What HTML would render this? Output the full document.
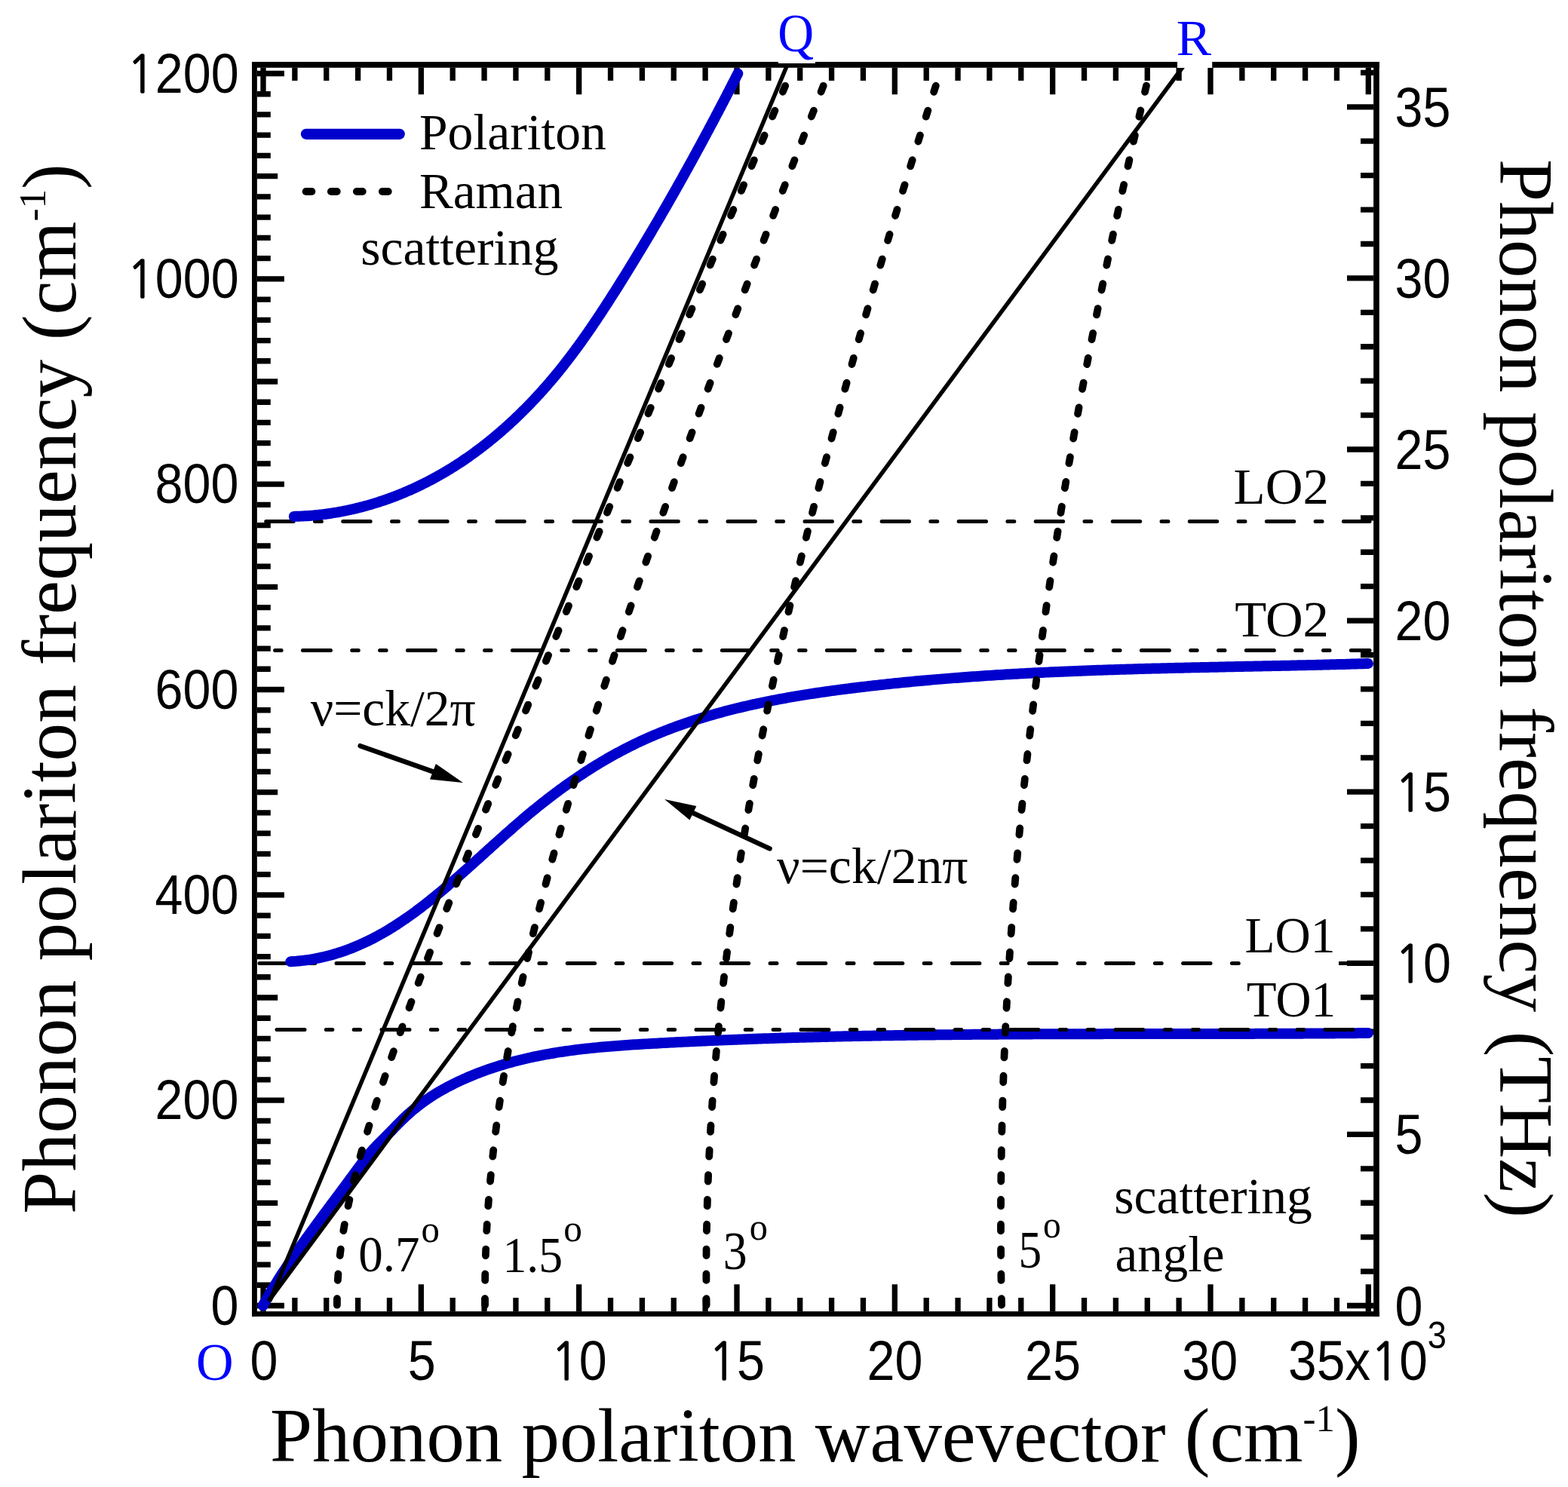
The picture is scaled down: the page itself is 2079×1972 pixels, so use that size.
<!DOCTYPE html>
<html><head><meta charset="utf-8"><title>Phonon polariton dispersion</title>
<style>html,body{margin:0;padding:0;background:#fff;}svg{display:block;}</style></head>
<body><svg xmlns="http://www.w3.org/2000/svg" width="2079" height="1972" viewBox="0 0 2079 1972">
<rect width="2079" height="1972" fill="#fff"/>
<rect x="334" y="82" width="1495" height="7.8" fill="#000"/>
<rect x="334" y="1739.1" width="1495" height="6.8" fill="#000"/>
<rect x="334" y="82" width="6.85" height="1663.9" fill="#000"/>
<rect x="1821.1" y="82" width="7.7" height="1663.9" fill="#000"/>
<path d="M340.8 1731.50H376.9 M340.8 1704.27H358.8 M340.8 1677.03H358.8 M340.8 1649.80H358.8 M340.8 1622.57H358.8 M340.8 1595.33H368.2 M340.8 1568.10H358.8 M340.8 1540.87H358.8 M340.8 1513.63H358.8 M340.8 1486.40H358.8 M340.8 1459.17H376.9 M340.8 1431.93H358.8 M340.8 1404.70H358.8 M340.8 1377.47H358.8 M340.8 1350.23H358.8 M340.8 1323.00H368.2 M340.8 1295.77H358.8 M340.8 1268.53H358.8 M340.8 1241.30H358.8 M340.8 1214.07H358.8 M340.8 1186.83H376.9 M340.8 1159.60H358.8 M340.8 1132.37H358.8 M340.8 1105.13H358.8 M340.8 1077.90H358.8 M340.8 1050.66H368.2 M340.8 1023.43H358.8 M340.8 996.20H358.8 M340.8 968.96H358.8 M340.8 941.73H358.8 M340.8 914.50H376.9 M340.8 887.26H358.8 M340.8 860.03H358.8 M340.8 832.80H358.8 M340.8 805.56H358.8 M340.8 778.33H368.2 M340.8 751.10H358.8 M340.8 723.86H358.8 M340.8 696.63H358.8 M340.8 669.40H358.8 M340.8 642.16H376.9 M340.8 614.93H358.8 M340.8 587.70H358.8 M340.8 560.46H358.8 M340.8 533.23H358.8 M340.8 506.00H368.2 M340.8 478.76H358.8 M340.8 451.53H358.8 M340.8 424.30H358.8 M340.8 397.06H358.8 M340.8 369.83H376.9 M340.8 342.60H358.8 M340.8 315.36H358.8 M340.8 288.13H358.8 M340.8 260.90H358.8 M340.8 233.66H368.2 M340.8 206.43H358.8 M340.8 179.20H358.8 M340.8 151.96H358.8 M340.8 124.73H358.8 M340.8 97.50H376.9 M1821.1 1731.50H1786.0 M1821.1 1686.08H1804.0 M1821.1 1640.66H1804.0 M1821.1 1595.24H1804.0 M1821.1 1549.82H1804.0 M1821.1 1504.40H1786.0 M1821.1 1458.98H1804.0 M1821.1 1413.56H1804.0 M1821.1 1368.14H1804.0 M1821.1 1322.72H1804.0 M1821.1 1277.30H1786.0 M1821.1 1231.88H1804.0 M1821.1 1186.46H1804.0 M1821.1 1141.04H1804.0 M1821.1 1095.62H1804.0 M1821.1 1050.20H1786.0 M1821.1 1004.78H1804.0 M1821.1 959.36H1804.0 M1821.1 913.94H1804.0 M1821.1 868.52H1804.0 M1821.1 823.10H1786.0 M1821.1 777.68H1804.0 M1821.1 732.26H1804.0 M1821.1 686.84H1804.0 M1821.1 641.42H1804.0 M1821.1 596.00H1786.0 M1821.1 550.58H1804.0 M1821.1 505.16H1804.0 M1821.1 459.74H1804.0 M1821.1 414.32H1804.0 M1821.1 368.90H1786.0 M1821.1 323.48H1804.0 M1821.1 278.06H1804.0 M1821.1 232.64H1804.0 M1821.1 187.22H1804.0 M1821.1 141.80H1786.0 M1821.1 96.38H1804.0 M349.00 1739.1V1703.2 M349.00 89.8V125.2 M390.87 1739.1V1721 M390.87 89.8V106.9 M432.73 1739.1V1721 M432.73 89.8V106.9 M474.60 1739.1V1721 M474.60 89.8V106.9 M516.46 1739.1V1721 M516.46 89.8V106.9 M558.33 1739.1V1703.2 M558.33 89.8V125.2 M600.20 1739.1V1721 M600.20 89.8V106.9 M642.06 1739.1V1721 M642.06 89.8V106.9 M683.93 1739.1V1721 M683.93 89.8V106.9 M725.79 1739.1V1721 M725.79 89.8V106.9 M767.66 1739.1V1703.2 M767.66 89.8V125.2 M809.53 1739.1V1721 M809.53 89.8V106.9 M851.39 1739.1V1721 M851.39 89.8V106.9 M893.26 1739.1V1721 M893.26 89.8V106.9 M935.12 1739.1V1721 M935.12 89.8V106.9 M976.99 1739.1V1703.2 M976.99 89.8V125.2 M1018.86 1739.1V1721 M1018.86 89.8V106.9 M1060.72 1739.1V1721 M1060.72 89.8V106.9 M1102.59 1739.1V1721 M1102.59 89.8V106.9 M1144.45 1739.1V1721 M1144.45 89.8V106.9 M1186.32 1739.1V1703.2 M1186.32 89.8V125.2 M1228.19 1739.1V1721 M1228.19 89.8V106.9 M1270.05 1739.1V1721 M1270.05 89.8V106.9 M1311.92 1739.1V1721 M1311.92 89.8V106.9 M1353.78 1739.1V1721 M1353.78 89.8V106.9 M1395.65 1739.1V1703.2 M1395.65 89.8V125.2 M1437.52 1739.1V1721 M1437.52 89.8V106.9 M1479.38 1739.1V1721 M1479.38 89.8V106.9 M1521.25 1739.1V1721 M1521.25 89.8V106.9 M1563.11 1739.1V1721 M1563.11 89.8V106.9 M1604.98 1739.1V1703.2 M1604.98 89.8V125.2 M1646.85 1739.1V1721 M1646.85 89.8V106.9 M1688.71 1739.1V1721 M1688.71 89.8V106.9 M1730.58 1739.1V1721 M1730.58 89.8V106.9 M1772.44 1739.1V1721 M1772.44 89.8V106.9 M1814.31 1739.1V1703.2 M1814.31 89.8V125.2" stroke="#000" stroke-width="7.3" fill="none"/>
<path d="M344.00 1277.40H1816.00" stroke="#000" stroke-width="5" stroke-linecap="round" stroke-dasharray="36.4 28.375 8.9 28.375" fill="none"/>
<path d="M352.70 691.50H1816.00" stroke="#000" stroke-width="5" stroke-linecap="round" stroke-dasharray="36.4 28.375 8.9 28.375" fill="none"/>
<path d="M364.60 862.40H1816.00" stroke="#000" stroke-width="5" stroke-linecap="round" stroke-dasharray="8.5 28.33 37 28.33 8.5 28.33" fill="none"/>
<path d="M348.60 1731.50 L350.17 1728.67 L351.76 1725.84 L353.36 1723.03 L354.98 1720.22 L356.61 1717.43 L358.25 1714.64 L359.90 1711.86 L361.57 1709.08 L363.25 1706.32 L364.94 1703.56 L366.64 1700.81 L368.35 1698.07 L370.07 1695.34 L371.81 1692.61 L373.55 1689.89 L375.31 1687.17 L377.07 1684.46 L378.85 1681.76 L380.63 1679.07 L382.42 1676.38 L384.22 1673.69 L386.03 1671.01 L387.85 1668.34 L389.68 1665.67 L391.51 1663.01 L393.35 1660.35 L395.20 1657.70 L397.05 1655.05 L398.92 1652.40 L400.78 1649.76 L402.66 1647.13 L404.54 1644.49 L406.42 1641.86 L408.31 1639.24 L410.21 1636.61 L412.10 1634.00 L414.01 1631.38 L415.92 1628.76 L417.83 1626.15 L419.74 1623.54 L421.66 1620.94 L423.58 1618.33 L425.51 1615.73 L427.43 1613.13 L429.36 1610.53 L431.29 1607.93 L433.23 1605.33 L435.16 1602.73 L437.10 1600.14 L439.03 1597.54 L440.97 1594.95 L442.90 1592.35 L444.84 1589.76 L446.78 1587.16 L448.71 1584.57 L450.65 1581.97 L452.58 1579.38 L454.51 1576.78 L456.44 1574.18 L458.37 1571.58 L460.30 1568.98 L462.22 1566.38 L464.14 1563.77 L466.06 1561.17 L467.97 1558.56 L469.89 1555.95 L471.80 1553.34 L473.72 1550.74 L475.64 1548.15 L477.57 1545.56 L479.51 1542.99 L481.46 1540.44 L483.44 1537.91 L485.43 1535.39 L487.44 1532.90 L489.47 1530.44 L491.53 1528.01 L493.63 1525.62 L495.75 1523.26 L497.91 1520.93 L500.10 1518.65 L502.32 1516.39 L504.56 1514.16 L506.81 1511.93 L509.07 1509.70 L511.32 1507.45 L513.56 1505.18 L515.80 1502.90 L518.03 1500.60 L520.26 1498.30 L522.49 1496.00 L524.73 1493.69 L526.97 1491.40 L529.23 1489.11 L531.50 1486.84 L533.78 1484.60 L536.09 1482.37 L538.42 1480.18 L540.77 1478.02 L543.15 1475.90 L545.55 1473.81 L547.98 1471.75 L550.44 1469.73 L552.92 1467.73 L555.43 1465.77 L557.97 1463.84 L560.54 1461.94 L563.13 1460.08 L565.76 1458.24 L568.41 1456.43 L571.09 1454.65 L573.81 1452.90 L576.55 1451.18 L579.32 1449.49 L582.12 1447.83 L584.93 1446.19 L587.78 1444.59 L590.64 1443.01 L593.52 1441.46 L596.43 1439.94 L599.35 1438.44 L602.28 1436.98 L605.23 1435.54 L608.19 1434.13 L611.16 1432.74 L614.15 1431.39 L617.14 1430.06 L620.14 1428.75 L623.14 1427.47 L626.15 1426.22 L629.17 1425.00 L632.19 1423.80 L635.22 1422.62 L638.25 1421.47 L641.29 1420.35 L644.34 1419.25 L647.39 1418.17 L650.44 1417.12 L653.50 1416.09 L656.57 1415.08 L659.64 1414.10 L662.72 1413.13 L665.80 1412.20 L668.89 1411.28 L671.98 1410.38 L675.07 1409.51 L678.17 1408.65 L681.28 1407.82 L684.39 1407.00 L687.50 1406.21 L690.62 1405.44 L693.74 1404.68 L696.87 1403.94 L700.00 1403.23 L703.14 1402.53 L706.28 1401.85 L709.42 1401.18 L712.57 1400.54 L715.72 1399.91 L718.87 1399.30 L722.03 1398.70 L725.19 1398.12 L728.36 1397.56 L731.52 1397.01 L734.70 1396.48 L737.87 1395.96 L741.05 1395.45 L744.23 1394.96 L747.41 1394.49 L750.60 1394.03 L753.79 1393.58 L756.98 1393.14 L760.18 1392.72 L763.37 1392.31 L766.57 1391.91 L769.78 1391.52 L772.98 1391.15 L776.19 1390.78 L779.40 1390.43 L782.61 1390.09 L785.82 1389.75 L789.04 1389.43 L792.25 1389.12 L795.47 1388.81 L798.69 1388.52 L801.91 1388.23 L805.14 1387.95 L808.36 1387.68 L811.59 1387.42 L814.82 1387.17 L818.05 1386.92 L821.28 1386.68 L824.51 1386.44 L827.74 1386.21 L830.97 1385.99 L834.21 1385.77 L837.44 1385.56 L840.68 1385.35 L843.91 1385.15 L847.15 1384.95 L850.39 1384.75 L853.63 1384.56 L856.86 1384.37 L860.10 1384.19 L863.34 1384.00 L866.58 1383.82 L869.82 1383.64 L873.05 1383.47 L876.29 1383.29 L879.53 1383.12 L882.77 1382.95 L886.01 1382.78 L889.24 1382.61 L892.48 1382.44 L895.72 1382.28 L898.96 1382.11 L902.19 1381.95 L905.43 1381.79 L908.67 1381.63 L911.90 1381.48 L915.14 1381.32 L918.38 1381.17 L921.61 1381.01 L924.85 1380.86 L928.09 1380.71 L931.32 1380.57 L934.56 1380.42 L937.80 1380.28 L941.03 1380.13 L944.27 1379.99 L947.51 1379.85 L950.74 1379.71 L953.98 1379.58 L957.21 1379.44 L960.45 1379.31 L963.68 1379.17 L966.92 1379.04 L970.16 1378.91 L973.39 1378.78 L976.63 1378.66 L979.86 1378.53 L983.10 1378.41 L986.33 1378.28 L989.57 1378.16 L992.80 1378.04 L996.04 1377.92 L999.27 1377.81 L1002.51 1377.69 L1005.74 1377.58 L1008.98 1377.46 L1012.21 1377.35 L1015.44 1377.24 L1018.68 1377.13 L1021.91 1377.03 L1025.15 1376.92 L1028.38 1376.81 L1031.62 1376.71 L1034.85 1376.61 L1038.08 1376.51 L1041.32 1376.41 L1044.55 1376.31 L1047.79 1376.21 L1051.02 1376.11 L1054.25 1376.02 L1057.49 1375.92 L1060.72 1375.83 L1063.95 1375.74 L1067.19 1375.65 L1070.42 1375.56 L1073.65 1375.47 L1076.89 1375.39 L1080.12 1375.30 L1083.35 1375.22 L1086.59 1375.13 L1089.82 1375.05 L1093.05 1374.97 L1096.29 1374.89 L1099.52 1374.81 L1102.75 1374.74 L1105.98 1374.66 L1109.22 1374.58 L1112.45 1374.51 L1115.68 1374.44 L1118.92 1374.36 L1122.15 1374.29 L1125.38 1374.22 L1128.61 1374.15 L1131.85 1374.09 L1135.08 1374.02 L1138.31 1373.95 L1141.54 1373.89 L1144.77 1373.83 L1148.01 1373.76 L1151.24 1373.70 L1154.47 1373.64 L1157.70 1373.58 L1160.94 1373.52 L1164.17 1373.46 L1167.40 1373.41 L1170.63 1373.35 L1173.86 1373.30 L1177.10 1373.24 L1180.33 1373.19 L1183.56 1373.14 L1186.79 1373.08 L1190.02 1373.03 L1193.25 1372.98 L1196.49 1372.94 L1199.72 1372.89 L1202.95 1372.84 L1206.18 1372.79 L1209.41 1372.75 L1212.64 1372.70 L1215.88 1372.66 L1219.11 1372.62 L1222.34 1372.57 L1225.57 1372.53 L1228.80 1372.49 L1232.03 1372.45 L1235.27 1372.41 L1238.50 1372.38 L1241.73 1372.34 L1244.96 1372.30 L1248.19 1372.27 L1251.42 1372.23 L1254.65 1372.20 L1257.88 1372.16 L1261.12 1372.13 L1264.35 1372.10 L1267.58 1372.07 L1270.81 1372.03 L1274.04 1372.00 L1277.27 1371.97 L1280.50 1371.95 L1283.73 1371.92 L1286.97 1371.89 L1290.20 1371.86 L1293.43 1371.84 L1296.66 1371.81 L1299.89 1371.79 L1303.12 1371.76 L1306.35 1371.74 L1309.58 1371.71 L1312.81 1371.69 L1316.05 1371.67 L1319.28 1371.65 L1322.51 1371.63 L1325.74 1371.61 L1328.97 1371.59 L1332.20 1371.57 L1335.43 1371.55 L1338.66 1371.53 L1341.89 1371.51 L1345.13 1371.49 L1348.36 1371.48 L1351.59 1371.46 L1354.82 1371.44 L1358.05 1371.43 L1361.28 1371.41 L1364.51 1371.40 L1367.74 1371.38 L1370.97 1371.37 L1374.21 1371.36 L1377.44 1371.34 L1380.67 1371.33 L1383.90 1371.32 L1387.13 1371.31 L1390.36 1371.30 L1393.59 1371.29 L1396.82 1371.28 L1400.05 1371.26 L1403.29 1371.25 L1406.52 1371.25 L1409.75 1371.24 L1412.98 1371.23 L1416.21 1371.22 L1419.44 1371.21 L1422.67 1371.20 L1425.90 1371.20 L1429.14 1371.19 L1432.37 1371.18 L1435.60 1371.17 L1438.83 1371.17 L1442.06 1371.16 L1445.29 1371.15 L1448.52 1371.15 L1451.76 1371.14 L1454.99 1371.14 L1458.22 1371.13 L1461.45 1371.13 L1464.68 1371.12 L1467.91 1371.12 L1471.15 1371.11 L1474.38 1371.11 L1477.61 1371.11 L1480.84 1371.10 L1484.07 1371.10 L1487.30 1371.09 L1490.54 1371.09 L1493.77 1371.09 L1497.00 1371.08 L1500.23 1371.08 L1503.46 1371.08 L1506.70 1371.08 L1509.93 1371.07 L1513.16 1371.07 L1516.39 1371.07 L1519.62 1371.06 L1522.86 1371.06 L1526.09 1371.06 L1529.32 1371.06 L1532.55 1371.05 L1535.79 1371.05 L1539.02 1371.05 L1542.25 1371.05 L1545.48 1371.04 L1548.72 1371.04 L1551.95 1371.04 L1555.18 1371.04 L1558.41 1371.03 L1561.65 1371.03 L1564.88 1371.03 L1568.11 1371.03 L1571.35 1371.02 L1574.58 1371.02 L1577.81 1371.02 L1581.04 1371.01 L1584.28 1371.01 L1587.51 1371.01 L1590.74 1371.00 L1593.98 1371.00 L1597.21 1371.00 L1600.44 1370.99 L1603.68 1370.99 L1606.91 1370.98 L1610.14 1370.98 L1613.38 1370.98 L1616.61 1370.97 L1619.84 1370.97 L1623.08 1370.96 L1626.31 1370.95 L1629.55 1370.95 L1632.78 1370.94 L1636.01 1370.94 L1639.25 1370.93 L1642.48 1370.92 L1645.72 1370.92 L1648.95 1370.91 L1652.18 1370.90 L1655.42 1370.90 L1658.65 1370.89 L1661.89 1370.88 L1665.12 1370.87 L1668.36 1370.86 L1671.59 1370.85 L1674.83 1370.84 L1678.06 1370.83 L1681.30 1370.82 L1684.53 1370.81 L1687.77 1370.80 L1691.00 1370.79 L1694.24 1370.78 L1697.47 1370.77 L1700.71 1370.75 L1703.94 1370.74 L1707.18 1370.73 L1710.41 1370.71 L1713.65 1370.70 L1716.89 1370.68 L1720.12 1370.67 L1723.36 1370.65 L1726.59 1370.64 L1729.83 1370.62 L1733.07 1370.60 L1736.30 1370.59 L1739.54 1370.57 L1742.78 1370.55 L1746.01 1370.53 L1749.25 1370.51 L1752.49 1370.49 L1755.72 1370.47 L1758.96 1370.45 L1762.20 1370.43 L1765.43 1370.41 L1768.67 1370.38 L1771.91 1370.36 L1775.14 1370.34 L1778.38 1370.31 L1781.62 1370.29 L1784.86 1370.26 L1788.10 1370.23 L1791.33 1370.21 L1794.57 1370.18 L1797.81 1370.15 L1801.05 1370.12 L1804.29 1370.09 L1807.52 1370.06 L1810.76 1370.03 L1814.00 1370.00" stroke="#0000cc" stroke-width="14" stroke-linecap="round" stroke-linejoin="round" fill="none"/>
<path d="M385.30 1275.30 L388.55 1275.10 L391.79 1274.86 L395.01 1274.57 L398.20 1274.25 L401.38 1273.89 L404.54 1273.50 L407.68 1273.06 L410.81 1272.59 L413.91 1272.08 L417.00 1271.53 L420.07 1270.95 L423.12 1270.34 L426.16 1269.68 L429.17 1269.00 L432.17 1268.28 L435.16 1267.52 L438.12 1266.73 L441.08 1265.91 L444.01 1265.06 L446.93 1264.17 L449.83 1263.26 L452.72 1262.31 L455.59 1261.33 L458.45 1260.32 L461.29 1259.28 L464.11 1258.21 L466.93 1257.11 L469.72 1255.99 L472.51 1254.83 L475.28 1253.65 L478.03 1252.44 L480.77 1251.21 L483.50 1249.94 L486.22 1248.66 L488.92 1247.34 L491.61 1246.00 L494.28 1244.64 L496.95 1243.25 L499.60 1241.84 L502.24 1240.41 L504.87 1238.95 L507.48 1237.47 L510.09 1235.97 L512.68 1234.44 L515.27 1232.90 L517.84 1231.33 L520.40 1229.75 L522.95 1228.14 L525.49 1226.52 L528.03 1224.87 L530.55 1223.21 L533.06 1221.53 L535.56 1219.83 L538.06 1218.11 L540.54 1216.38 L543.02 1214.63 L545.49 1212.86 L547.95 1211.08 L550.40 1209.28 L552.84 1207.47 L555.28 1205.64 L557.71 1203.80 L560.13 1201.95 L562.55 1200.08 L564.96 1198.20 L567.36 1196.31 L569.76 1194.41 L572.15 1192.49 L574.53 1190.57 L576.91 1188.63 L579.28 1186.68 L581.65 1184.73 L584.01 1182.76 L586.37 1180.79 L588.72 1178.81 L591.07 1176.82 L593.42 1174.82 L595.76 1172.81 L598.09 1170.80 L600.43 1168.78 L602.76 1166.76 L605.08 1164.73 L607.41 1162.69 L609.73 1160.65 L612.05 1158.60 L614.36 1156.55 L616.68 1154.50 L618.99 1152.44 L621.30 1150.38 L623.61 1148.31 L625.92 1146.24 L628.22 1144.17 L630.53 1142.10 L632.83 1140.02 L635.14 1137.95 L637.44 1135.87 L639.74 1133.79 L642.05 1131.71 L644.35 1129.63 L646.66 1127.55 L648.96 1125.47 L651.27 1123.39 L653.57 1121.31 L655.88 1119.23 L658.19 1117.16 L660.50 1115.09 L662.82 1113.01 L665.13 1110.95 L667.45 1108.88 L669.77 1106.82 L672.09 1104.76 L674.42 1102.70 L676.75 1100.65 L679.08 1098.61 L681.41 1096.56 L683.75 1094.53 L686.10 1092.50 L688.44 1090.47 L690.79 1088.45 L693.15 1086.44 L695.51 1084.43 L697.88 1082.43 L700.25 1080.44 L702.62 1078.46 L705.01 1076.48 L707.39 1074.51 L709.79 1072.55 L712.18 1070.60 L714.59 1068.66 L717.00 1066.73 L719.42 1064.81 L721.84 1062.90 L724.27 1060.99 L726.71 1059.10 L729.15 1057.21 L731.60 1055.34 L734.05 1053.48 L736.51 1051.62 L738.98 1049.78 L741.45 1047.95 L743.93 1046.13 L746.42 1044.31 L748.91 1042.51 L751.41 1040.72 L753.92 1038.95 L756.43 1037.18 L758.95 1035.42 L761.47 1033.68 L764.00 1031.95 L766.54 1030.23 L769.08 1028.52 L771.63 1026.82 L774.19 1025.14 L776.75 1023.47 L779.32 1021.81 L781.90 1020.16 L784.48 1018.52 L787.07 1016.90 L789.67 1015.29 L792.27 1013.70 L794.88 1012.12 L797.50 1010.55 L800.13 1008.99 L802.76 1007.45 L805.39 1005.92 L808.04 1004.41 L810.69 1002.91 L813.35 1001.42 L816.01 999.95 L818.68 998.49 L821.36 997.05 L824.05 995.62 L826.74 994.21 L829.44 992.81 L832.15 991.42 L834.86 990.06 L837.58 988.70 L840.31 987.36 L843.04 986.04 L845.78 984.74 L848.53 983.44 L851.29 982.17 L854.05 980.90 L856.82 979.66 L859.59 978.42 L862.37 977.20 L865.16 976.00 L867.95 974.81 L870.75 973.63 L873.56 972.47 L876.37 971.33 L879.19 970.19 L882.02 969.07 L884.85 967.97 L887.69 966.87 L890.53 965.79 L893.38 964.73 L896.23 963.67 L899.09 962.63 L901.95 961.61 L904.82 960.59 L907.70 959.59 L910.58 958.60 L913.47 957.62 L916.36 956.66 L919.25 955.71 L922.15 954.77 L925.06 953.84 L927.97 952.92 L930.89 952.02 L933.81 951.12 L936.73 950.24 L939.66 949.37 L942.60 948.51 L945.54 947.67 L948.48 946.83 L951.43 946.01 L954.38 945.19 L957.33 944.39 L960.29 943.59 L963.25 942.81 L966.22 942.04 L969.19 941.28 L972.17 940.52 L975.15 939.78 L978.13 939.05 L981.12 938.33 L984.10 937.62 L987.10 936.91 L990.09 936.22 L993.09 935.54 L996.09 934.86 L999.10 934.20 L1002.11 933.54 L1005.12 932.89 L1008.14 932.25 L1011.15 931.62 L1014.17 931.00 L1017.20 930.39 L1020.22 929.78 L1023.25 929.18 L1026.28 928.59 L1029.31 928.01 L1032.35 927.44 L1035.38 926.88 L1038.42 926.32 L1041.47 925.77 L1044.51 925.22 L1047.56 924.69 L1050.60 924.16 L1053.65 923.64 L1056.70 923.12 L1059.76 922.62 L1062.81 922.12 L1065.87 921.62 L1068.93 921.13 L1071.98 920.65 L1075.04 920.18 L1078.11 919.71 L1081.17 919.25 L1084.23 918.79 L1087.30 918.34 L1090.36 917.89 L1093.43 917.45 L1096.50 917.02 L1099.57 916.59 L1102.63 916.16 L1105.70 915.74 L1108.77 915.33 L1111.84 914.92 L1114.92 914.52 L1117.99 914.12 L1121.06 913.72 L1124.13 913.33 L1127.20 912.94 L1130.27 912.56 L1133.35 912.18 L1136.42 911.81 L1139.49 911.44 L1142.56 911.07 L1145.63 910.71 L1148.70 910.35 L1151.77 909.99 L1154.84 909.64 L1157.91 909.29 L1160.98 908.94 L1164.05 908.60 L1167.12 908.26 L1170.19 907.93 L1173.26 907.60 L1176.33 907.27 L1179.39 906.94 L1182.46 906.62 L1185.53 906.30 L1188.60 905.99 L1191.66 905.68 L1194.73 905.37 L1197.80 905.06 L1200.86 904.76 L1203.93 904.46 L1206.99 904.17 L1210.06 903.88 L1213.12 903.59 L1216.19 903.30 L1219.25 903.02 L1222.32 902.74 L1225.38 902.46 L1228.45 902.19 L1231.51 901.92 L1234.58 901.65 L1237.64 901.39 L1240.70 901.12 L1243.77 900.87 L1246.83 900.61 L1249.89 900.36 L1252.96 900.11 L1256.02 899.86 L1259.08 899.62 L1262.14 899.37 L1265.20 899.14 L1268.27 898.90 L1271.33 898.67 L1274.39 898.44 L1277.45 898.21 L1280.51 897.98 L1283.57 897.76 L1286.63 897.54 L1289.70 897.32 L1292.76 897.11 L1295.82 896.90 L1298.88 896.69 L1301.94 896.48 L1305.00 896.28 L1308.06 896.07 L1311.12 895.87 L1314.18 895.68 L1317.24 895.48 L1320.30 895.29 L1323.36 895.10 L1326.42 894.91 L1329.48 894.73 L1332.54 894.54 L1335.60 894.36 L1338.65 894.19 L1341.71 894.01 L1344.77 893.83 L1347.83 893.66 L1350.89 893.49 L1353.95 893.33 L1357.01 893.16 L1360.07 893.00 L1363.13 892.84 L1366.18 892.68 L1369.24 892.52 L1372.30 892.36 L1375.36 892.21 L1378.42 892.06 L1381.48 891.91 L1384.53 891.76 L1387.59 891.62 L1390.65 891.48 L1393.71 891.33 L1396.77 891.19 L1399.83 891.06 L1402.88 890.92 L1405.94 890.79 L1409.00 890.65 L1412.06 890.52 L1415.12 890.39 L1418.18 890.27 L1421.23 890.14 L1424.29 890.02 L1427.35 889.89 L1430.41 889.77 L1433.47 889.65 L1436.53 889.54 L1439.58 889.42 L1442.64 889.30 L1445.70 889.19 L1448.76 889.08 L1451.82 888.97 L1454.88 888.86 L1457.94 888.75 L1460.99 888.65 L1464.05 888.54 L1467.11 888.44 L1470.17 888.34 L1473.23 888.24 L1476.29 888.14 L1479.35 888.04 L1482.41 887.94 L1485.47 887.85 L1488.53 887.75 L1491.59 887.66 L1494.65 887.57 L1497.70 887.47 L1500.76 887.38 L1503.82 887.30 L1506.88 887.21 L1509.94 887.12 L1513.00 887.03 L1516.06 886.95 L1519.13 886.87 L1522.19 886.78 L1525.25 886.70 L1528.31 886.62 L1531.37 886.54 L1534.43 886.46 L1537.49 886.38 L1540.55 886.30 L1543.61 886.23 L1546.68 886.15 L1549.74 886.07 L1552.80 886.00 L1555.86 885.93 L1558.92 885.85 L1561.99 885.78 L1565.05 885.71 L1568.11 885.64 L1571.17 885.57 L1574.24 885.50 L1577.30 885.43 L1580.36 885.36 L1583.43 885.29 L1586.49 885.22 L1589.56 885.15 L1592.62 885.09 L1595.68 885.02 L1598.75 884.95 L1601.81 884.89 L1604.88 884.82 L1607.94 884.76 L1611.01 884.69 L1614.08 884.63 L1617.14 884.56 L1620.21 884.50 L1623.28 884.43 L1626.34 884.37 L1629.41 884.31 L1632.48 884.24 L1635.54 884.18 L1638.61 884.12 L1641.68 884.05 L1644.75 883.99 L1647.82 883.93 L1650.89 883.86 L1653.95 883.80 L1657.02 883.74 L1660.09 883.67 L1663.16 883.61 L1666.23 883.55 L1669.30 883.49 L1672.37 883.42 L1675.45 883.36 L1678.52 883.30 L1681.59 883.23 L1684.66 883.17 L1687.73 883.10 L1690.81 883.04 L1693.88 882.97 L1696.95 882.91 L1700.02 882.84 L1703.10 882.78 L1706.17 882.71 L1709.25 882.64 L1712.32 882.58 L1715.40 882.51 L1718.47 882.44 L1721.55 882.37 L1724.62 882.31 L1727.70 882.24 L1730.78 882.17 L1733.86 882.10 L1736.93 882.03 L1740.01 881.95 L1743.09 881.88 L1746.17 881.81 L1749.25 881.74 L1752.33 881.66 L1755.41 881.59 L1758.49 881.51 L1761.57 881.43 L1764.65 881.36 L1767.73 881.28 L1770.81 881.20 L1773.89 881.12 L1776.98 881.04 L1780.06 880.96 L1783.14 880.88 L1786.23 880.79 L1789.31 880.71 L1792.40 880.62 L1795.48 880.54 L1798.57 880.45 L1801.65 880.36 L1804.74 880.27 L1807.83 880.18 L1810.91 880.09 L1814.00 880.00" stroke="#0000cc" stroke-width="14" stroke-linecap="round" stroke-linejoin="round" fill="none"/>
<path d="M389.80 684.90 L391.57 684.86 L393.34 684.82 L395.10 684.76 L396.87 684.70 L398.63 684.63 L400.40 684.55 L402.16 684.46 L403.92 684.36 L405.68 684.26 L407.44 684.15 L409.20 684.03 L410.96 683.90 L412.72 683.76 L414.47 683.61 L416.23 683.46 L417.98 683.30 L419.73 683.13 L421.48 682.95 L423.23 682.76 L424.98 682.57 L426.73 682.36 L428.47 682.15 L430.22 681.93 L431.96 681.71 L433.70 681.47 L435.44 681.23 L437.18 680.98 L438.92 680.72 L440.65 680.45 L442.39 680.18 L444.12 679.90 L445.85 679.61 L447.58 679.31 L449.31 679.00 L451.04 678.69 L452.76 678.37 L454.48 678.04 L456.21 677.70 L457.93 677.36 L459.64 677.01 L461.36 676.65 L463.08 676.28 L464.79 675.91 L466.50 675.53 L468.21 675.14 L469.92 674.74 L471.62 674.34 L473.33 673.92 L475.03 673.51 L476.73 673.08 L478.43 672.65 L480.12 672.20 L481.82 671.76 L483.51 671.30 L485.20 670.84 L486.89 670.37 L488.57 669.89 L490.25 669.40 L491.94 668.91 L493.62 668.41 L495.29 667.91 L496.97 667.39 L498.64 666.87 L500.31 666.35 L501.98 665.81 L503.64 665.27 L505.31 664.72 L506.97 664.17 L508.63 663.60 L510.28 663.03 L511.94 662.46 L513.59 661.88 L515.24 661.29 L516.89 660.69 L518.53 660.09 L520.17 659.48 L521.81 658.86 L523.45 658.23 L525.08 657.60 L526.71 656.97 L528.34 656.32 L529.97 655.67 L531.59 655.02 L533.21 654.35 L534.83 653.68 L536.44 653.00 L538.06 652.32 L539.67 651.63 L541.27 650.94 L542.88 650.23 L544.48 649.52 L546.07 648.81 L547.67 648.09 L549.26 647.36 L550.85 646.62 L552.44 645.88 L554.02 645.13 L555.60 644.38 L557.18 643.62 L558.75 642.86 L560.32 642.08 L561.89 641.31 L563.46 640.52 L565.02 639.73 L566.58 638.93 L568.13 638.13 L569.68 637.32 L571.23 636.51 L572.78 635.69 L574.32 634.86 L575.86 634.03 L577.40 633.19 L578.93 632.34 L580.46 631.49 L581.98 630.64 L583.50 629.77 L585.02 628.91 L586.54 628.03 L588.05 627.15 L589.56 626.27 L591.06 625.38 L592.57 624.48 L594.06 623.58 L595.56 622.67 L597.05 621.76 L598.54 620.84 L600.02 619.91 L601.50 618.98 L602.98 618.05 L604.46 617.11 L605.93 616.16 L607.40 615.21 L608.86 614.25 L610.32 613.29 L611.78 612.32 L613.23 611.35 L614.68 610.37 L616.13 609.38 L617.57 608.40 L619.01 607.40 L620.45 606.40 L621.88 605.40 L623.31 604.39 L624.74 603.37 L626.16 602.36 L627.58 601.33 L629.00 600.30 L630.41 599.27 L631.82 598.23 L633.23 597.18 L634.63 596.13 L636.03 595.08 L637.42 594.02 L638.82 592.96 L640.20 591.89 L641.59 590.82 L642.97 589.74 L644.35 588.66 L645.72 587.57 L647.10 586.48 L648.46 585.38 L649.83 584.28 L651.19 583.18 L652.55 582.07 L653.90 580.95 L655.25 579.83 L656.60 578.71 L657.94 577.58 L659.28 576.45 L660.62 575.32 L661.95 574.18 L663.28 573.03 L664.61 571.88 L665.93 570.73 L667.25 569.57 L668.57 568.41 L669.88 567.24 L671.19 566.07 L672.50 564.90 L673.80 563.72 L675.10 562.54 L676.39 561.35 L677.68 560.16 L678.97 558.97 L680.26 557.77 L681.54 556.57 L682.82 555.36 L684.09 554.15 L685.36 552.94 L686.63 551.72 L687.89 550.50 L689.15 549.28 L690.41 548.05 L691.66 546.82 L692.91 545.58 L694.16 544.34 L695.40 543.10 L696.64 541.85 L697.88 540.60 L699.11 539.35 L700.34 538.09 L701.57 536.83 L702.79 535.57 L704.01 534.30 L705.22 533.03 L706.43 531.76 L707.64 530.48 L708.84 529.20 L710.05 527.92 L711.24 526.63 L712.44 525.34 L713.63 524.05 L714.81 522.75 L716.00 521.45 L717.18 520.15 L718.35 518.84 L719.53 517.53 L720.70 516.22 L721.86 514.91 L723.02 513.59 L724.18 512.27 L725.34 510.94 L726.49 509.62 L727.64 508.29 L728.78 506.96 L729.92 505.62 L731.06 504.28 L732.19 502.94 L733.33 501.60 L734.45 500.26 L735.58 498.91 L736.70 497.56 L737.81 496.20 L738.92 494.85 L740.03 493.49 L741.14 492.13 L742.24 490.76 L743.34 489.40 L744.44 488.03 L745.53 486.66 L746.62 485.29 L747.70 483.91 L748.78 482.53 L749.86 481.15 L750.94 479.77 L752.01 478.38 L753.08 477.00 L754.14 475.61 L755.20 474.22 L756.26 472.82 L757.32 471.43 L758.37 470.03 L759.42 468.63 L760.47 467.23 L761.51 465.82 L762.55 464.42 L763.59 463.01 L764.63 461.60 L765.66 460.19 L766.69 458.77 L767.72 457.36 L768.74 455.94 L769.77 454.52 L770.79 453.10 L771.80 451.68 L772.82 450.25 L773.83 448.82 L774.84 447.39 L775.85 445.96 L776.85 444.53 L777.85 443.10 L778.85 441.66 L779.85 440.23 L780.85 438.79 L781.84 437.35 L782.83 435.91 L783.82 434.46 L784.81 433.02 L785.79 431.57 L786.77 430.13 L787.75 428.68 L788.73 427.23 L789.71 425.78 L790.68 424.32 L791.66 422.87 L792.63 421.41 L793.60 419.96 L794.57 418.50 L795.53 417.04 L796.50 415.58 L797.46 414.12 L798.42 412.65 L799.38 411.19 L800.34 409.73 L801.29 408.26 L802.25 406.79 L803.20 405.32 L804.16 403.85 L805.11 402.38 L806.06 400.91 L807.00 399.44 L807.95 397.97 L808.90 396.49 L809.84 395.02 L810.79 393.54 L811.73 392.07 L812.67 390.59 L813.61 389.11 L814.55 387.63 L815.49 386.15 L816.43 384.67 L817.36 383.19 L818.30 381.71 L819.23 380.23 L820.17 378.74 L821.10 377.26 L822.03 375.78 L822.96 374.29 L823.89 372.80 L824.82 371.32 L825.75 369.83 L826.68 368.34 L827.60 366.85 L828.53 365.37 L829.45 363.88 L830.37 362.39 L831.30 360.89 L832.22 359.40 L833.14 357.91 L834.06 356.42 L834.98 354.92 L835.90 353.43 L836.81 351.94 L837.73 350.44 L838.65 348.94 L839.56 347.45 L840.47 345.95 L841.39 344.45 L842.30 342.95 L843.21 341.45 L844.12 339.96 L845.03 338.45 L845.94 336.95 L846.85 335.45 L847.75 333.95 L848.66 332.45 L849.56 330.95 L850.47 329.44 L851.37 327.94 L852.27 326.43 L853.18 324.93 L854.08 323.42 L854.98 321.92 L855.88 320.41 L856.78 318.90 L857.67 317.40 L858.57 315.89 L859.47 314.38 L860.36 312.87 L861.25 311.36 L862.15 309.85 L863.04 308.34 L863.93 306.83 L864.82 305.32 L865.71 303.80 L866.60 302.29 L867.49 300.78 L868.38 299.27 L869.27 297.75 L870.15 296.24 L871.04 294.72 L871.92 293.21 L872.81 291.69 L873.69 290.18 L874.57 288.66 L875.46 287.14 L876.34 285.63 L877.22 284.11 L878.10 282.59 L878.97 281.07 L879.85 279.55 L880.73 278.03 L881.60 276.51 L882.48 274.99 L883.35 273.47 L884.23 271.95 L885.10 270.43 L885.97 268.90 L886.85 267.38 L887.72 265.86 L888.59 264.33 L889.46 262.81 L890.32 261.29 L891.19 259.76 L892.06 258.24 L892.92 256.71 L893.79 255.18 L894.66 253.66 L895.52 252.13 L896.38 250.60 L897.24 249.08 L898.11 247.55 L898.97 246.02 L899.83 244.49 L900.69 242.96 L901.55 241.43 L902.40 239.90 L903.26 238.37 L904.12 236.84 L904.97 235.31 L905.83 233.78 L906.68 232.24 L907.54 230.71 L908.39 229.18 L909.24 227.64 L910.09 226.11 L910.94 224.58 L911.79 223.04 L912.64 221.51 L913.49 219.97 L914.34 218.43 L915.18 216.90 L916.03 215.36 L916.88 213.82 L917.72 212.29 L918.56 210.75 L919.41 209.21 L920.25 207.67 L921.09 206.13 L921.93 204.59 L922.77 203.05 L923.61 201.51 L924.45 199.97 L925.29 198.43 L926.13 196.89 L926.96 195.35 L927.80 193.81 L928.64 192.26 L929.47 190.72 L930.30 189.18 L931.14 187.64 L931.97 186.09 L932.80 184.55 L933.63 183.00 L934.46 181.46 L935.29 179.91 L936.12 178.37 L936.95 176.82 L937.78 175.27 L938.61 173.73 L939.43 172.18 L940.26 170.63 L941.08 169.08 L941.91 167.53 L942.73 165.99 L943.55 164.44 L944.37 162.89 L945.20 161.34 L946.02 159.79 L946.84 158.24 L947.66 156.69 L948.47 155.13 L949.29 153.58 L950.11 152.03 L950.93 150.48 L951.74 148.93 L952.56 147.37 L953.37 145.82 L954.19 144.27 L955.00 142.71 L955.81 141.16 L956.62 139.60 L957.44 138.05 L958.25 136.49 L959.06 134.94 L959.87 133.38 L960.67 131.82 L961.48 130.27 L962.29 128.71 L963.10 127.15 L963.90 125.59 L964.71 124.04 L965.51 122.48 L966.32 120.92 L967.12 119.36 L967.92 117.80 L968.72 116.24 L969.53 114.68 L970.33 113.12 L971.13 111.56 L971.93 110.00 L972.72 108.44 L973.52 106.88 L974.32 105.31 L975.12 103.75 L975.91 102.19 L976.71 100.63 L977.50 99.06 L978.30 97.50" stroke="#0000cc" stroke-width="14" stroke-linecap="round" stroke-linejoin="round" fill="none"/>
<path d="M367.00 1365.40H1816.00" stroke="#000" stroke-width="5" stroke-linecap="round" stroke-dasharray="37 28.33 8.5 28.33 8.5 28.33" fill="none"/>
<path d="M357.61 1725.5L1043.87 86" stroke="#000" stroke-width="5.5" fill="none"/>
<path d="M355.94 1725.5L1570.36 86" stroke="#000" stroke-width="5.5" fill="none"/>
<path d="M1037.87 121.72L1041.16 113.88 M1024.10 154.55L1027.39 146.71 M1010.34 187.38L1013.62 179.54 M996.58 220.21L999.86 212.37 M982.83 253.04L986.11 245.20 M969.08 285.87L972.36 278.03 M955.34 318.70L958.62 310.86 M941.61 351.53L944.89 343.69 M927.89 384.36L931.17 376.52 M914.18 417.19L917.46 409.35 M900.48 450.02L903.76 442.18 M886.80 482.85L890.07 475.01 M873.12 515.68L876.39 507.84 M859.45 548.51L862.72 540.67 M845.80 581.34L849.07 573.50 M832.17 614.18L835.43 606.32 M818.55 647.01L821.81 639.15 M804.95 679.84L808.20 671.98 M791.37 712.67L794.62 704.81 M777.81 745.50L781.05 737.64 M764.27 778.33L767.51 770.47 M750.76 811.16L753.99 803.30 M737.28 843.99L740.51 836.13 M723.83 876.82L727.05 868.96 M710.41 909.65L713.63 901.79 M697.04 942.49L700.24 934.61 M683.71 975.32L686.90 967.44 M670.42 1008.15L673.61 1000.27 M657.20 1040.98L660.37 1033.10 M644.04 1073.82L647.19 1065.92 M630.94 1106.65L634.09 1098.75 M617.94 1139.48L621.06 1131.58 M605.02 1172.32L608.13 1164.40 M592.22 1205.15L595.30 1197.23 M579.55 1237.99L582.60 1230.05 M567.03 1270.82L570.04 1262.88 M554.68 1303.66L557.66 1295.70 M542.56 1336.50L545.48 1328.52 M530.68 1369.34L533.55 1361.34 M519.12 1402.18L521.91 1394.16 M507.94 1435.03L510.64 1426.97 M497.21 1467.88L499.81 1459.78 M487.06 1500.73L489.52 1492.59 M477.62 1533.58L479.90 1525.40 M469.05 1566.44L471.11 1558.20 M461.56 1599.31L463.34 1590.99 M455.37 1632.17L456.81 1623.79 M450.72 1665.03L451.76 1656.59 M447.84 1697.88L448.40 1689.40 M446.87 1730.72L446.93 1722.22 M1088.61 121.76L1091.70 113.84 M1075.82 154.59L1078.90 146.67 M1063.08 187.42L1066.15 179.50 M1050.38 220.25L1053.44 212.33 M1037.73 253.09L1040.78 245.15 M1025.13 285.92L1028.17 277.98 M1012.59 318.75L1015.62 310.81 M1000.11 351.58L1003.12 343.64 M987.68 384.42L990.69 376.46 M975.32 417.25L978.31 409.29 M963.03 450.08L966.01 442.12 M950.82 482.91L953.77 474.95 M938.68 515.75L941.62 507.77 M926.62 548.58L929.54 540.60 M914.65 581.41L917.55 573.43 M902.77 614.25L905.65 606.25 M890.99 647.08L893.85 639.08 M879.32 679.92L882.15 671.90 M867.76 712.75L870.57 704.73 M856.32 745.59L859.10 737.55 M845.01 778.42L847.76 770.38 M833.83 811.26L836.56 803.20 M822.81 844.09L825.50 836.03 M811.94 876.93L814.60 868.85 M801.25 909.76L803.86 901.68 M790.73 942.60L793.31 934.50 M780.41 975.44L782.94 967.32 M770.30 1008.27L772.79 1000.15 M760.42 1041.11L762.85 1032.97 M750.78 1073.95L753.15 1065.79 M741.39 1106.79L743.71 1098.61 M732.29 1139.63L734.54 1131.43 M723.49 1172.47L725.66 1164.25 M715.00 1205.31L717.10 1197.07 M706.87 1238.15L708.88 1229.89 M699.09 1270.99L701.02 1262.71 M691.71 1303.83L693.54 1295.53 M684.75 1336.67L686.48 1328.35 M678.24 1369.51L679.85 1361.17 M672.20 1402.35L673.69 1393.99 M666.65 1435.19L668.02 1426.81 M661.64 1468.04L662.87 1459.62 M657.17 1500.87L658.26 1492.45 M653.28 1533.71L654.22 1525.27 M649.99 1566.55L650.78 1558.09 M647.31 1599.39L647.94 1590.91 M645.27 1632.22L645.74 1623.74 M643.88 1665.06L644.18 1656.56 M643.15 1697.89L643.27 1689.39 M643.07 1730.72L643.03 1722.22 M1238.18 121.85L1240.77 113.75 M1227.74 154.68L1230.31 146.58 M1217.41 187.52L1219.95 179.40 M1207.17 220.35L1209.69 212.23 M1197.04 253.18L1199.54 245.06 M1187.03 286.02L1189.50 277.88 M1177.12 318.85L1179.57 310.71 M1167.34 351.68L1169.76 343.54 M1157.68 384.52L1160.07 376.36 M1148.14 417.35L1150.50 409.19 M1138.74 450.19L1141.07 442.01 M1129.48 483.02L1131.77 474.84 M1120.35 515.86L1122.61 507.66 M1111.37 548.69L1113.60 540.49 M1102.55 581.53L1104.74 573.31 M1093.88 614.36L1096.03 606.14 M1085.37 647.20L1087.49 638.96 M1077.04 680.03L1079.11 671.79 M1068.87 712.87L1070.91 704.61 M1060.89 745.70L1062.88 737.44 M1053.10 778.54L1055.04 770.26 M1045.49 811.37L1047.39 803.09 M1038.09 844.21L1039.94 835.91 M1030.89 877.04L1032.69 868.74 M1023.91 909.88L1025.66 901.56 M1017.14 942.71L1018.84 934.39 M1010.60 975.55L1012.24 967.21 M1004.29 1008.39L1005.87 1000.03 M998.22 1041.22L999.75 1032.86 M992.40 1074.06L993.86 1065.68 M986.83 1106.89L988.23 1098.51 M981.52 1139.73L982.85 1131.33 M976.47 1172.56L977.74 1164.16 M971.70 1205.40L972.90 1196.98 M967.21 1238.23L968.33 1229.81 M963.00 1271.07L964.05 1262.63 M959.08 1303.90L960.06 1295.46 M955.46 1336.74L956.36 1328.28 M952.14 1369.57L952.97 1361.11 M949.13 1402.40L949.88 1393.94 M946.43 1435.24L947.09 1426.76 M944.04 1468.07L944.63 1459.59 M941.98 1500.90L942.48 1492.42 M940.23 1533.73L940.65 1525.25 M938.81 1566.57L939.15 1558.07 M937.72 1599.40L937.97 1590.90 M936.96 1632.23L937.13 1623.73 M936.53 1665.06L936.61 1656.56 M936.44 1697.89L936.43 1689.39 M936.67 1730.72L936.58 1722.22 M1518.03 121.94L1519.97 113.66 M1510.41 154.77L1512.32 146.49 M1502.91 187.60L1504.79 179.32 M1495.54 220.44L1497.39 212.14 M1488.28 253.27L1490.11 244.97 M1481.16 286.10L1482.95 277.80 M1474.16 318.94L1475.92 310.62 M1467.30 351.77L1469.03 343.45 M1460.57 384.60L1462.26 376.28 M1453.98 417.44L1455.64 409.10 M1447.52 450.27L1449.15 441.93 M1441.21 483.10L1442.80 474.76 M1435.04 515.94L1436.60 507.58 M1429.02 548.77L1430.54 540.41 M1423.15 581.60L1424.63 573.24 M1417.43 614.44L1418.88 606.06 M1411.86 647.27L1413.27 638.89 M1406.45 680.10L1407.82 671.72 M1401.20 712.94L1402.53 704.54 M1396.11 745.77L1397.40 737.37 M1391.19 778.60L1392.43 770.20 M1386.43 811.44L1387.63 803.02 M1381.83 844.27L1383.00 835.85 M1377.41 877.10L1378.53 868.68 M1373.16 909.94L1374.24 901.50 M1369.09 942.77L1370.12 934.33 M1365.19 975.60L1366.18 967.16 M1361.47 1008.43L1362.41 999.99 M1357.93 1041.27L1358.83 1032.81 M1354.58 1074.10L1355.43 1065.64 M1351.41 1106.93L1352.21 1098.47 M1348.43 1139.76L1349.18 1131.30 M1345.63 1172.60L1346.33 1164.12 M1343.03 1205.43L1343.68 1196.95 M1340.61 1238.26L1341.22 1229.78 M1338.39 1271.09L1338.95 1262.61 M1336.36 1303.92L1336.87 1295.44 M1334.53 1336.75L1334.98 1328.27 M1332.89 1369.59L1333.30 1361.09 M1331.45 1402.42L1331.81 1393.92 M1330.21 1435.25L1330.51 1426.75 M1329.17 1468.08L1329.42 1459.58 M1328.33 1500.91L1328.52 1492.41 M1327.68 1533.74L1327.83 1525.24 M1327.24 1566.57L1327.33 1558.07 M1327.00 1599.40L1327.04 1590.90 M1326.96 1632.23L1326.95 1623.73 M1327.11 1665.06L1327.05 1656.56 M1327.47 1697.89L1327.36 1689.39 M1328.03 1730.72L1327.87 1722.22" stroke="#000" stroke-width="9.8" stroke-linecap="round" fill="none"/>
<path d="M477.66 989.20L577.72 1024.60" stroke="#000" stroke-width="6.5" stroke-linecap="round" fill="none"/><path d="M613.90 1038.00L577.90 1012.90L570.00 1033.60Z" fill="#000"/><path d="M1020.56 1125.42L915.33 1076.45" stroke="#000" stroke-width="6.5" stroke-linecap="round" fill="none"/><path d="M881.10 1060.00L923.40 1068.90L914.50 1087.40Z" fill="#000"/>
<path d="M405.9 177.8H529.8" stroke="#0000cc" stroke-width="14.2" stroke-linecap="round"/><path d="M405.65 254H413.35 M438.95 254H446.65 M472.95 254H480.65 M506.95 254H514.65" stroke="#000" stroke-width="10" stroke-linecap="round"/>
<rect x="1032" y="10" width="49" height="74" fill="#fff"/>
<rect x="1561" y="18" width="46.2" height="72" fill="#fff"/>
<rect x="1649" y="1212" width="126" height="69" fill="#fff"/>
<g transform="translate(556.01,197.80) scale(0.9943,1.0000)" fill="#000"><text font-family="Liberation Serif, Times New Roman, serif" font-size="68.0">Polariton</text></g>
<g transform="translate(556.03,275.70) scale(0.9859,1.0000)" fill="#000"><text font-family="Liberation Serif, Times New Roman, serif" font-size="68.0">Raman</text></g>
<g transform="translate(478.22,351.30) scale(0.9927,1.0000)" fill="#000"><text font-family="Liberation Serif, Times New Roman, serif" font-size="68.0">scattering</text></g>
<g transform="translate(1635.57,668.00) scale(1.0134,1.0000)" fill="#000"><text font-family="Liberation Serif, Times New Roman, serif" font-size="68.0">LO2</text></g>
<g transform="translate(1637.13,843.90) scale(1.0112,1.0000)" fill="#000"><text font-family="Liberation Serif, Times New Roman, serif" font-size="68.0">TO2</text></g>
<g transform="translate(1650.58,1262.80) scale(0.9625,1.0000)" fill="#000"><text font-family="Liberation Serif, Times New Roman, serif" font-size="68.0">LO1</text></g>
<g transform="translate(1652.80,1347.90) scale(0.9580,1.0000)" fill="#000"><text font-family="Liberation Serif, Times New Roman, serif" font-size="68.0">TO1</text></g>
<g transform="translate(411.71,961.50) scale(0.9934,1.0000)" fill="#000"><text font-family="Liberation Serif, Times New Roman, serif" font-size="68.0">ν=ck/2π</text></g>
<g transform="translate(1030.01,1171.30) scale(0.9963,1.0000)" fill="#000"><text font-family="Liberation Serif, Times New Roman, serif" font-size="68.0">ν=ck/2nπ</text></g>
<g transform="translate(475.30,1686.30) scale(0.9567,1.0000)" fill="#000"><text font-family="Liberation Serif, Times New Roman, serif" font-size="68.0">0.7</text></g>
<g transform="translate(666.38,1686.50) scale(0.9369,1.0000)" fill="#000"><text font-family="Liberation Serif, Times New Roman, serif" font-size="68.0">1.5</text></g>
<g transform="translate(958.80,1683.19) scale(0.9392,1.0432)" fill="#000"><text font-family="Liberation Serif, Times New Roman, serif" font-size="68.0">3</text></g>
<g transform="translate(1350.50,1680.51) scale(0.9006,1.0321)" fill="#000"><text font-family="Liberation Serif, Times New Roman, serif" font-size="68.0">5</text></g>
<g transform="translate(1477.22,1608.80) scale(0.9935,1.0000)" fill="#000"><text font-family="Liberation Serif, Times New Roman, serif" font-size="68.0">scattering</text></g>
<g transform="translate(1478.58,1685.60) scale(0.9835,1.0000)" fill="#000"><text font-family="Liberation Serif, Times New Roman, serif" font-size="68.0">angle</text></g>
<g transform="translate(1031.18,68.20) scale(0.9746,1.0634)" fill="#0000ff"><text font-family="Liberation Serif, Times New Roman, serif" font-size="68.0">Q</text></g>
<g transform="translate(1559.87,72.60) scale(1.0173,1.0000)" fill="#0000ff"><text font-family="Liberation Serif, Times New Roman, serif" font-size="68.0">R</text></g>
<g transform="translate(259.97,1830.21) scale(1.0098,1.0388)" fill="#0000ff"><text font-family="Liberation Serif, Times New Roman, serif" font-size="68.0">O</text></g>
<g transform="translate(558.52,1646.70) scale(1.0379,1.0576)" fill="#000"><text font-family="Liberation Serif, Times New Roman, serif" font-size="47">o</text></g>
<g transform="translate(747.30,1646.20) scale(1.0481,1.0576)" fill="#000"><text font-family="Liberation Serif, Times New Roman, serif" font-size="47">o</text></g>
<g transform="translate(993.84,1644.10) scale(1.0277,1.0809)" fill="#000"><text font-family="Liberation Serif, Times New Roman, serif" font-size="47">o</text></g>
<g transform="translate(1383.09,1640.90) scale(1.0074,1.0716)" fill="#000"><text font-family="Liberation Serif, Times New Roman, serif" font-size="47">o</text></g>
<g transform="translate(279.58,1756.77) scale(0.9050,1.0000)" fill="#000"><text font-family="Liberation Sans, Arial, Helvetica, sans-serif" font-size="73.4">0</text></g>
<g transform="translate(205.58,1484.43) scale(0.9050,1.0000)" fill="#000"><text font-family="Liberation Sans, Arial, Helvetica, sans-serif" font-size="73.4">200</text></g>
<g transform="translate(205.58,1212.10) scale(0.9050,1.0000)" fill="#000"><text font-family="Liberation Sans, Arial, Helvetica, sans-serif" font-size="73.4">400</text></g>
<g transform="translate(205.58,939.77) scale(0.9050,1.0000)" fill="#000"><text font-family="Liberation Sans, Arial, Helvetica, sans-serif" font-size="73.4">600</text></g>
<g transform="translate(205.58,667.43) scale(0.9050,1.0000)" fill="#000"><text font-family="Liberation Sans, Arial, Helvetica, sans-serif" font-size="73.4">800</text></g>
<g transform="translate(168.34,394.94) scale(0.9050,1.0000)" fill="#000"><text font-family="Liberation Sans, Arial, Helvetica, sans-serif" font-size="73.4"><tspan font-family="NanumGothic, Liberation Sans, sans-serif" stroke="#000" stroke-width="1.3" font-size="68.2">1</tspan>000</text></g>
<g transform="translate(168.34,122.63) scale(0.9050,1.0000)" fill="#000"><text font-family="Liberation Sans, Arial, Helvetica, sans-serif" font-size="73.4"><tspan font-family="NanumGothic, Liberation Sans, sans-serif" stroke="#000" stroke-width="1.3" font-size="68.2">1</tspan>200</text></g>
<g transform="translate(1849.60,1757.77) scale(0.9050,1.0000)" fill="#000"><text font-family="Liberation Sans, Arial, Helvetica, sans-serif" font-size="73.4">0</text></g>
<g transform="translate(1849.60,1530.40) scale(0.9050,1.0000)" fill="#000"><text font-family="Liberation Sans, Arial, Helvetica, sans-serif" font-size="73.4">5</text></g>
<g transform="translate(1849.60,1303.40) scale(0.9050,1.0000)" fill="#000"><text font-family="Liberation Sans, Arial, Helvetica, sans-serif" font-size="73.4"><tspan font-family="NanumGothic, Liberation Sans, sans-serif" stroke="#000" stroke-width="1.3" font-size="68.2">1</tspan>0</text></g>
<g transform="translate(1849.60,1076.20) scale(0.9050,1.0000)" fill="#000"><text font-family="Liberation Sans, Arial, Helvetica, sans-serif" font-size="73.4"><tspan font-family="NanumGothic, Liberation Sans, sans-serif" stroke="#000" stroke-width="1.3" font-size="68.2">1</tspan>5</text></g>
<g transform="translate(1849.60,849.37) scale(0.9050,1.0000)" fill="#000"><text font-family="Liberation Sans, Arial, Helvetica, sans-serif" font-size="73.4">20</text></g>
<g transform="translate(1849.60,622.25) scale(0.9050,1.0000)" fill="#000"><text font-family="Liberation Sans, Arial, Helvetica, sans-serif" font-size="73.4">25</text></g>
<g transform="translate(1849.60,395.16) scale(0.9050,1.0000)" fill="#000"><text font-family="Liberation Sans, Arial, Helvetica, sans-serif" font-size="73.4">30</text></g>
<g transform="translate(1849.60,168.05) scale(0.9050,1.0000)" fill="#000"><text font-family="Liberation Sans, Arial, Helvetica, sans-serif" font-size="73.4">35</text></g>
<g transform="translate(331.43,1830.00) scale(0.9050,1.0000)" fill="#000"><text font-family="Liberation Sans, Arial, Helvetica, sans-serif" font-size="73.4">0</text></g>
<g transform="translate(540.72,1830.00) scale(0.9050,1.0000)" fill="#000"><text font-family="Liberation Sans, Arial, Helvetica, sans-serif" font-size="73.4">5</text></g>
<g transform="translate(730.43,1830.00) scale(0.9050,1.0000)" fill="#000"><text font-family="Liberation Sans, Arial, Helvetica, sans-serif" font-size="73.4"><tspan font-family="NanumGothic, Liberation Sans, sans-serif" stroke="#000" stroke-width="1.3" font-size="68.2">1</tspan>0</text></g>
<g transform="translate(939.56,1830.00) scale(0.9050,1.0000)" fill="#000"><text font-family="Liberation Sans, Arial, Helvetica, sans-serif" font-size="73.4"><tspan font-family="NanumGothic, Liberation Sans, sans-serif" stroke="#000" stroke-width="1.3" font-size="68.2">1</tspan>5</text></g>
<g transform="translate(1149.48,1830.00) scale(0.9050,1.0000)" fill="#000"><text font-family="Liberation Sans, Arial, Helvetica, sans-serif" font-size="73.4">20</text></g>
<g transform="translate(1358.97,1830.00) scale(0.9050,1.0000)" fill="#000"><text font-family="Liberation Sans, Arial, Helvetica, sans-serif" font-size="73.4">25</text></g>
<g transform="translate(1567.28,1830.00) scale(0.9050,1.0000)" fill="#000"><text font-family="Liberation Sans, Arial, Helvetica, sans-serif" font-size="73.4">30</text></g>
<g transform="translate(1708.08,1830.30) scale(0.9220,1.0000)" fill="#000"><text font-family="Liberation Sans, Arial, Helvetica, sans-serif" font-size="73.4">35x<tspan font-family="NanumGothic, Liberation Sans, sans-serif" stroke="#000" stroke-width="1.3" font-size="68.2">1</tspan>0</text></g>
<g transform="translate(1892.80,1787.50) scale(0.9050,1.0000)" fill="#000"><text font-family="Liberation Sans, Arial, Helvetica, sans-serif" font-size="50">3</text></g>
<g transform="translate(358.01,1938.30) scale(0.9962,1.0000)" fill="#000"><text font-family="Liberation Serif, Times New Roman, serif" font-size="101.25">Phonon polariton wavevector (cm<tspan font-size="51" dy="-40.4">-1</tspan><tspan dy="40.4">)</tspan></text></g>
<g transform="translate(99.9,1610.01) rotate(-90) scale(1.0027,1)"><text font-family="Liberation Serif, Times New Roman, serif" font-size="101.25">Phonon polariton frequency (cm<tspan font-size="51" dy="-40.4">-1</tspan><tspan dy="40.4">)</tspan></text></g>
<g transform="translate(1988.5,211.00) rotate(90) scale(1.0009,1)"><text font-family="Liberation Serif, Times New Roman, serif" font-size="101.25">Phonon polariton frequency (THz)</text></g>
</svg></body></html>
